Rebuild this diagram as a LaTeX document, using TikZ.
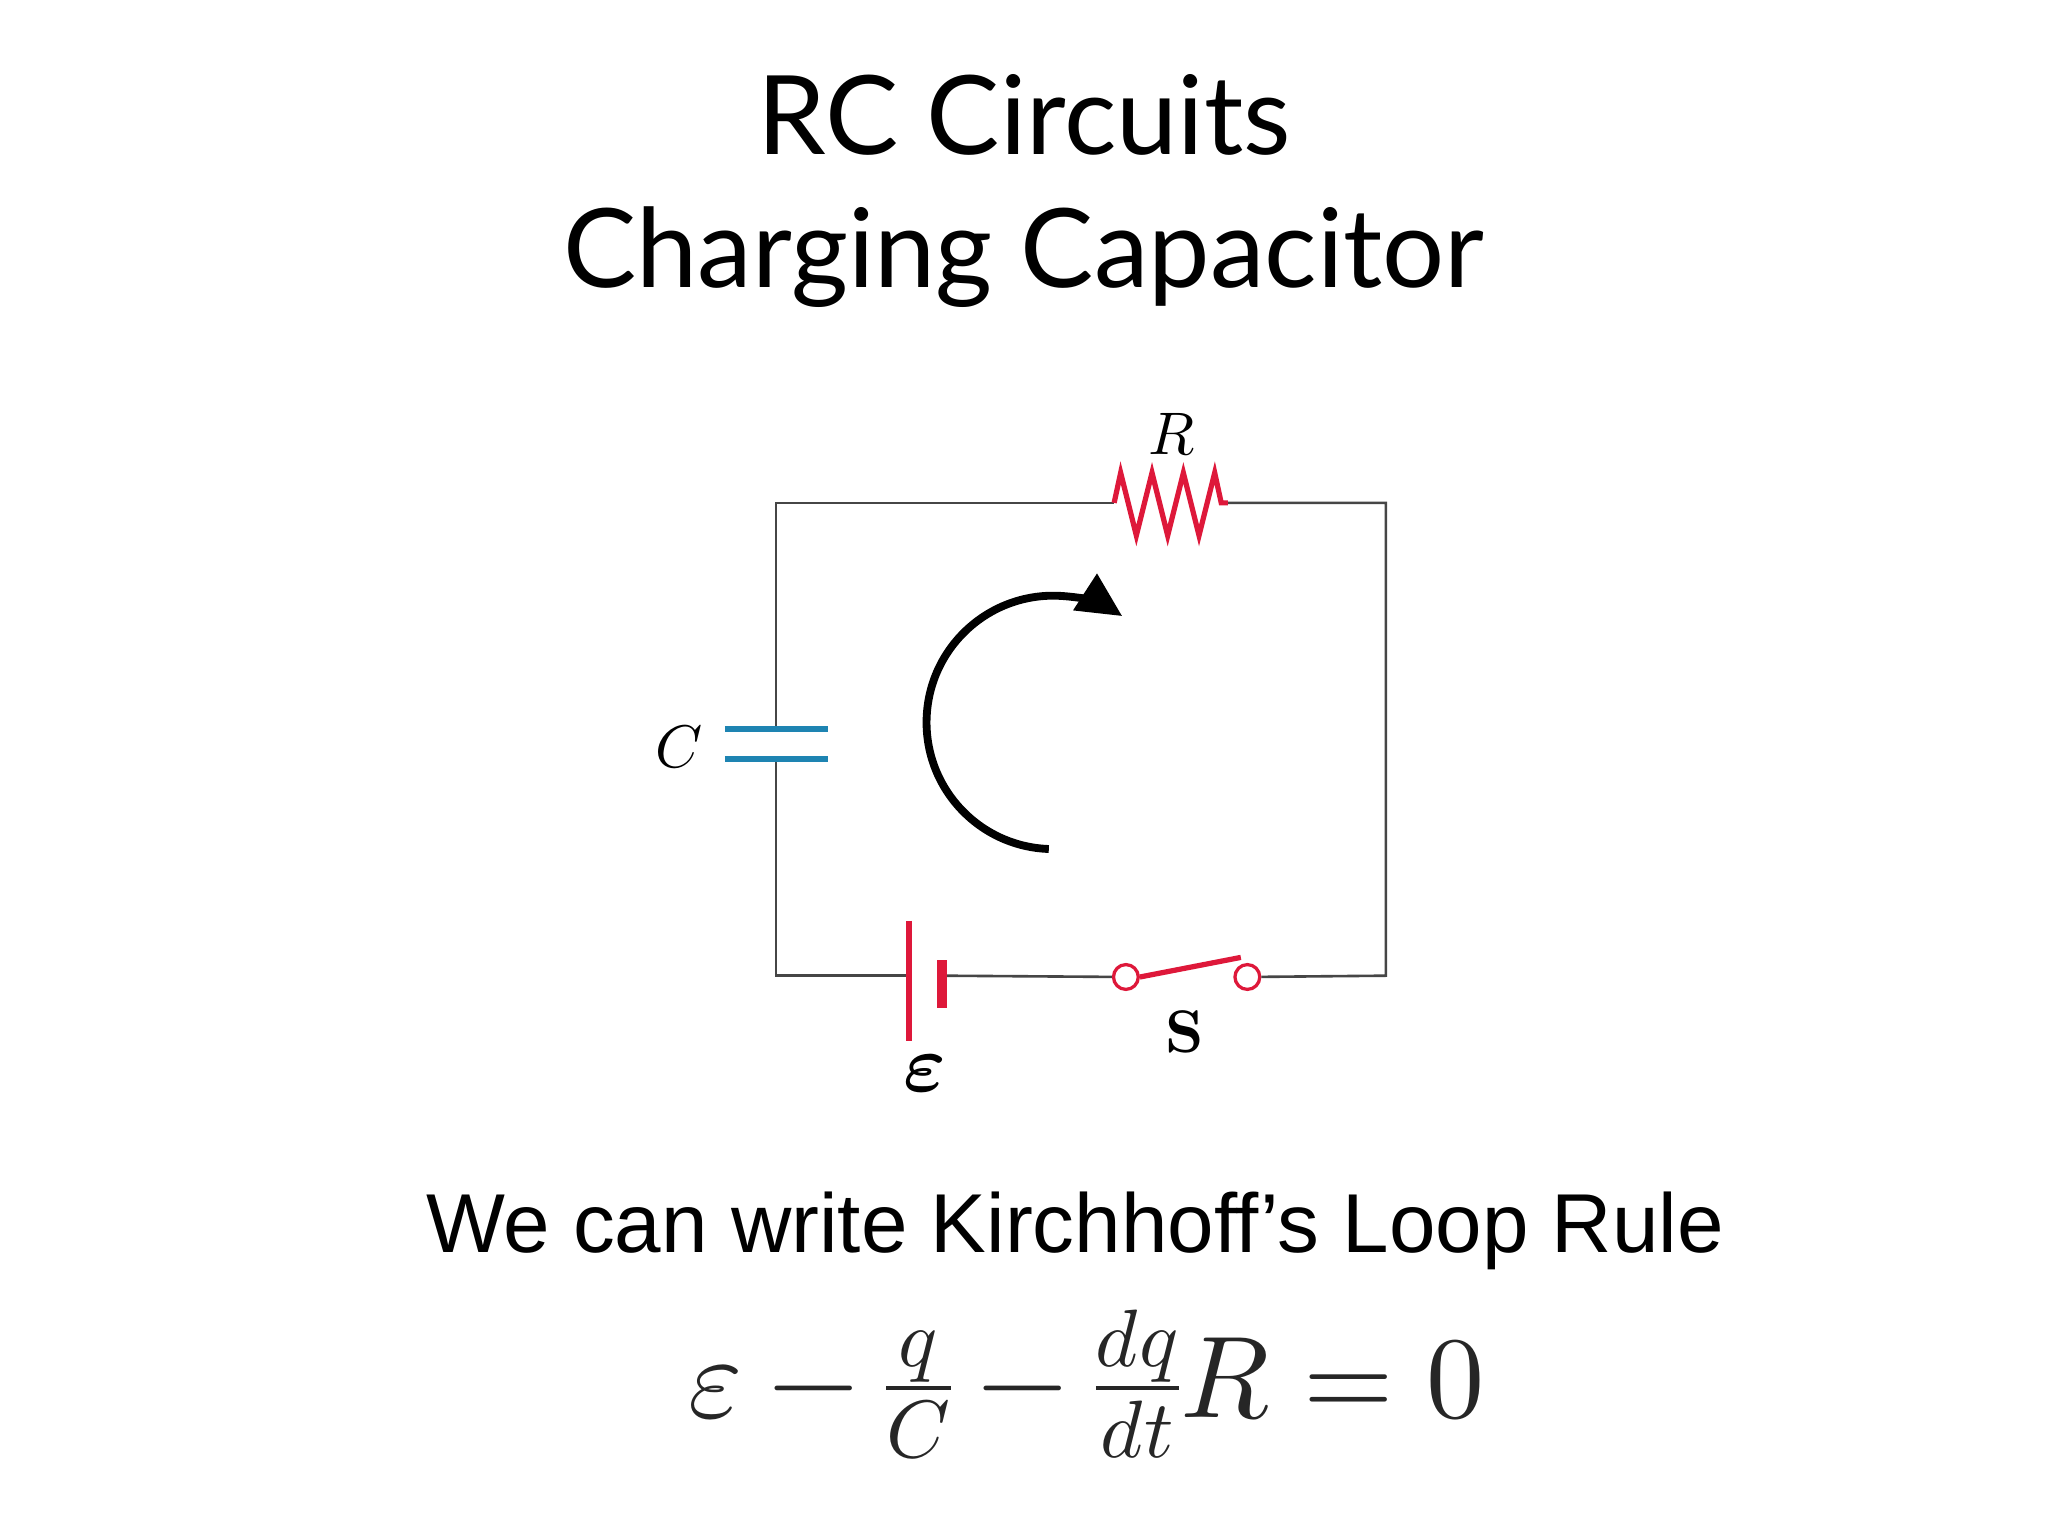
\documentclass[tikz,border=0pt]{standalone}
\usepackage{fontspec}
\usepackage{unicode-math}
\setmathfont{Latin Modern Math}
\usetikzlibrary{arrows.meta}
\newfontfamily\titlefont{Lato}
\newfontfamily\arialfont{Liberation Sans}
\definecolor{cred}{RGB}{222,24,58}
\definecolor{cblue}{RGB}{30,132,178}
\definecolor{wire}{RGB}{70,70,70}
\begin{document}
\begin{tikzpicture}[x=1pt,y=-1pt,
  wirel/.style={draw=wire,line width=2pt},
  redl/.style={draw=cred,line width=4pt},
  lbl/.style={font=\fontsize{46}{50}\selectfont}]
\useasboundingbox[fill=white] (0,0) rectangle (1568,1176);
\node[font=\titlefont\fontsize{84}{102}\selectfont,align=center] (title) at (784,146) {RC Circuits\\Charging Capacitor};
% corners
\coordinate (tl) at (594,385); \coordinate (tr) at (1061,385);
\coordinate (bl) at (594,747); \coordinate (br) at (1061,747);
\coordinate (r1) at (853,385); \coordinate (r2) at (940,385);
\coordinate (c1) at (594,558); \coordinate (c2) at (594,581);
\coordinate (b1) at (696,747); \coordinate (b2) at (721,747);
\node[circle,draw=cred,line width=2.5pt,minimum size=19pt,inner sep=0] (s1) at (862,748) {};
\node[circle,draw=cred,line width=2.5pt,minimum size=19pt,inner sep=0] (s2) at (955,748) {};
\draw[wirel] (c1) -- (tl) -- (r1);
\draw[wirel] (r2) -- (tr) -- (br) -- (s2);
\draw[wirel] (c2) -- (bl) -- (b1);
\draw[wirel] (b2) -- (s1);
% resistor
\draw[redl,line join=miter] (r1) -- (858,362) -- (870,410) -- (882,362) -- (894,410) -- (906,362) -- (918,410) -- (930,362) -- (935,385) -- (r2);
% capacitor
\draw[cblue,line width=5pt] (555,558) -- (634,558) (555,581) -- (634,581);
% battery
\draw[cred,line width=4pt] (696,705) -- (696,797);
\draw[cred,line width=8pt] (721,735) -- (721,772);
% switch
\draw[redl] (s1.east) -- (950,733);
% arrow
\draw[line width=6pt,-{Triangle[length=34pt,width=32pt]}] (803,650) arc[start angle=92,end angle=303,radius=97];
\node[lbl] (lr) at (897,333) {$R$};
\node[lbl] (lc) at (520,572) {$C$};
\node[font=\fontsize{62}{66}\selectfont] (le) at (708,822) {$\symbfit{\varepsilon}$};
\node[lbl] (ls) at (907,790) {$\symbf{S}$};
\node[font=\arialfont\fontsize{64}{70}\selectfont] (kir) at (823,942) {We can write Kirchhoff’s Loop Rule};
\node[font=\fontsize{89}{95}\selectfont,text=black!85] (eq) at (832,1060) {$\varepsilon - \tfrac{q}{C} - \tfrac{dq}{dt}R = 0$};
\end{tikzpicture}
\end{document}
